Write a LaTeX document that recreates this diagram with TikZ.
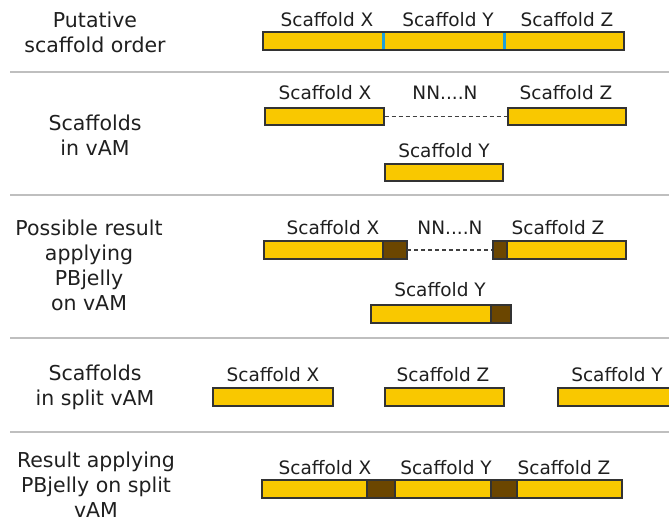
\documentclass[tikz,border=0pt]{standalone}
\usepackage{fontspec}
\setmainfont{DejaVu Sans}
\begin{document}
\begin{tikzpicture}[x=1pt,y=-1pt,
  lbl/.style={inner sep=0pt,anchor=base,font=\fontsize{18.5}{22}\selectfont,text=black!88},
  side/.style={inner sep=0pt,align=center,font=\fontsize{20.5}{25}\selectfont,text=black!88},
  ybar/.style={fill=scY,draw=black!80,line width=1.3pt},
  bbar/.style={fill=scB,draw=black!80,line width=1.3pt},
  sep/.style={draw=black!25,line width=1.5pt},
  gap/.style={draw=black!75,line width=1.4pt,dash pattern=on 4pt off 3pt}]
\definecolor{scY}{HTML}{F9C800}
\definecolor{scB}{HTML}{6B4600}
\definecolor{scL}{HTML}{1EA0DC}
\useasboundingbox (0,0) rectangle (669,522);
% separators
\coordinate (s1a) at (10,72); \coordinate (s1b) at (669,72);
\coordinate (s2a) at (10,195); \coordinate (s2b) at (669,195);
\coordinate (s3a) at (10,338); \coordinate (s3b) at (669,338);
\coordinate (s4a) at (10,432); \coordinate (s4b) at (669,432);
\draw[sep] (s1a) -- (s1b);
\draw[sep] (s2a) -- (s2b);
\draw[sep] (s3a) -- (s3b);
\draw[sep] (s4a) -- (s4b);
% side labels
\node[side] (t1) at (95,32) {Putative\\scaffold order};
\node[side] (t2) at (95,135) {Scaffolds\\in vAM};
\node[side] (t3) at (89,265) {Possible result\\applying\\PBjelly\\on vAM};
\node[side] (t4) at (95,387) {Scaffolds\\in split vAM};
\node[side] (t5) at (96,485) {Result applying\\PBjelly on split\\vAM};
% row 1
\draw[ybar] (263,32) rectangle (624,50);
\draw[scL,line width=3pt] (383,33) -- (383,49);
\draw[scL,line width=3pt] (504,33) -- (504,49);
\node[lbl] (r1x) at (327,26) {Scaffold X};
\node[lbl] (r1y) at (448,26) {Scaffold Y};
\node[lbl] (r1z) at (567,26) {Scaffold Z};
% row 2
\node[ybar,minimum width=119pt,minimum height=17pt,inner sep=0pt] (r2xb) at (324.5,116.5) {};
\node[ybar,minimum width=118pt,minimum height=17pt,inner sep=0pt] (r2zb) at (567,116.5) {};
\draw[gap] (r2xb.east) -- (r2zb.west);
\node[ybar,minimum width=118pt,minimum height=17pt,inner sep=0pt] (r2yb) at (444,172.5) {};
\node[lbl] (r2x) at (325,99) {Scaffold X};
\node[lbl] (r2n) at (445,99) {NN....N};
\node[lbl] (r2z) at (566,99) {Scaffold Z};
\node[lbl] (r2y) at (444,157) {Scaffold Y};
% row 3
\draw[ybar] (264,241) rectangle (383,259);
\draw[bbar] (383,241) rectangle (407,259);
\coordinate (r3g1) at (407,250);
\coordinate (r3g2) at (493,250);
\draw[gap] (r3g1) -- (r3g2);
\draw[bbar] (493,241) rectangle (507,259);
\draw[ybar] (507,241) rectangle (626,259);
\draw[ybar] (371,305) rectangle (491,323);
\draw[bbar] (491,305) rectangle (511,323);
\node[lbl] (r3x) at (333,234) {Scaffold X};
\node[lbl] (r3n) at (450,234) {NN....N};
\node[lbl] (r3z) at (558,234) {Scaffold Z};
\node[lbl] (r3y) at (440,296) {Scaffold Y};
% row 4
\draw[ybar] (213,388) rectangle (333,406);
\draw[ybar] (385,388) rectangle (504,406);
\draw[ybar] (558,388) rectangle (680,406);
\node[lbl] (r4x) at (273,381) {Scaffold X};
\node[lbl] (r4z) at (443,381) {Scaffold Z};
\node[lbl] (r4y) at (617,381) {Scaffold Y};
% row 5
\draw[ybar] (262,480) rectangle (367,498);
\draw[bbar] (367,480) rectangle (395,498);
\draw[ybar] (395,480) rectangle (491,498);
\draw[bbar] (491,480) rectangle (517,498);
\draw[ybar] (517,480) rectangle (622,498);
\node[lbl] (r5x) at (325,474) {Scaffold X};
\node[lbl] (r5y) at (446,474) {Scaffold Y};
\node[lbl] (r5z) at (564,474) {Scaffold Z};
\end{tikzpicture}
\end{document}
